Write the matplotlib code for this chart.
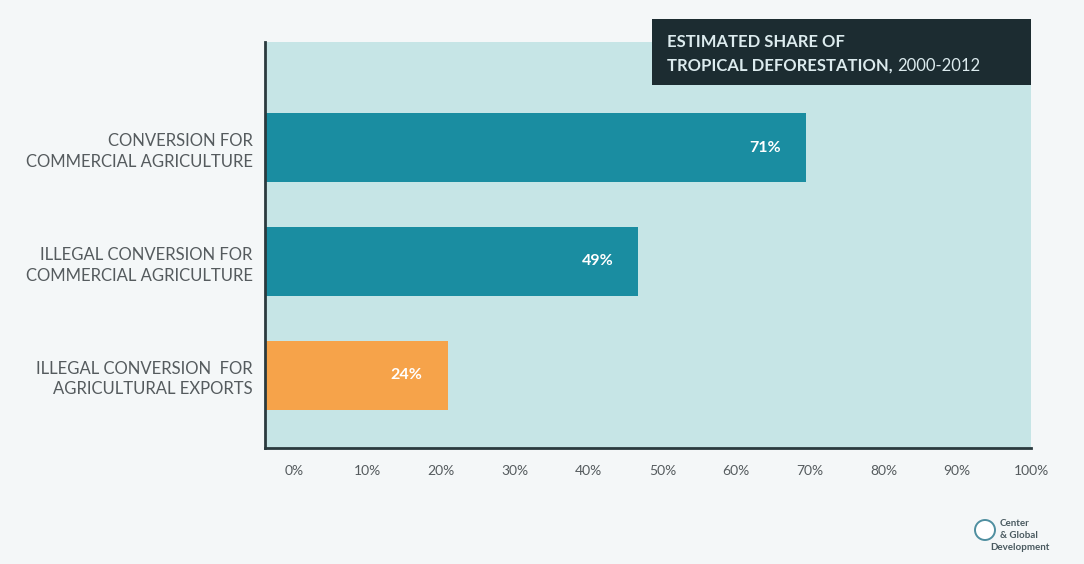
import matplotlib
matplotlib.use("Agg")
import matplotlib.pyplot as plt
from matplotlib.patches import Rectangle, Ellipse
import numpy as np

plt.rcParams['font.family'] = ['Lato', 'DejaVu Sans']

categories = ["CONVERSION FOR\nCOMMERCIAL AGRICULTURE",
              "ILLEGAL CONVERSION FOR\nCOMMERCIAL AGRICULTURE",
              "ILLEGAL CONVERSION  FOR\nAGRICULTURAL EXPORTS"]
values = [71, 49, 24]
value_labels = ["71%", "49%", "24%"]
tick_values = [0, 10, 20, 30, 40, 50, 60, 70, 80, 90, 100]
tick_labels = ["0%", "10%", "20%", "30%", "40%", "50%", "60%", "70%", "80%", "90%", "100%"]
title_line1 = "ESTIMATED SHARE OF"
title_line2 = "TROPICAL DEFORESTATION,"
title_light = "2000-2012"

bg = "#f4f7f8"
panel = "#c6e5e6"
teal = "#1a8da1"
orange = "#f6a34a"
bar_colors = [teal, teal, orange]
label_color = "#555b5e"

fig = plt.figure(figsize=(10.84, 5.64), dpi=100, facecolor=bg)
ax = fig.add_axes([265/1084, 1-448/564, (1031-265)/1084, (448-42)/564])
ax.set_facecolor(panel)

y = np.arange(len(categories))
ax.barh(y, values, height=0.61, color=bar_colors, zorder=2)
ax.set_xlim(0, 100)
ax.set_ylim(2.64, -0.93)

for yi, v, lab in zip(y, values, value_labels):
    ax.text(v - 5.4, yi, lab, ha='center', va='center', color='white',
            fontsize=11.5, fontweight='bold', zorder=3)

# tick labels (the original graphic offsets them slightly from the bar scale)
tick_pos = [3.8 + 0.967 * t for t in tick_values]
ax.set_xticks(tick_pos)
ax.set_xticklabels(tick_labels, fontsize=10, color=label_color)
ax.tick_params(axis='x', length=0, pad=12)
ax.set_yticks(y)
ax.set_yticklabels(categories, fontsize=12, color=label_color, linespacing=1.35)
ax.tick_params(axis='y', length=0, pad=9)
for lbl in ax.get_yticklabels():
    lbl.set_horizontalalignment('right')
    lbl.set_multialignment('right')

for s in ['top', 'right']:
    ax.spines[s].set_visible(False)
for s in ['left', 'bottom']:
    ax.spines[s].set_color('#2a3a3e')
    ax.spines[s].set_linewidth(2)

# title box
fig.patches.append(Rectangle((652/1084, 1-85/564), (1031-652)/1084, 66/564,
                             transform=fig.transFigure, facecolor="#1c2c31",
                             edgecolor='none', zorder=5))
fig.text(667/1084, 1-42/564, title_line1, color="#dcebee",
         fontsize=12, fontweight='bold', va='center', ha='left', zorder=6)
t2 = fig.text(667/1084, 1-66/564, title_line2, color="#dcebee",
              fontsize=12, fontweight='bold', va='center', ha='left', zorder=6)
fig.canvas.draw()
bb = t2.get_window_extent()
fig.text((bb.x1 + 5)/1084, 1-66/564, title_light, color="#dcebee",
         fontsize=12, fontweight='normal', va='center', ha='left', zorder=6)

# logo
fig.patches.append(Ellipse((985/1084, 1-530/564), 20/1084, 20/564, transform=fig.transFigure,
                           facecolor='white', edgecolor="#4f8fa0", lw=1.4))
fig.text(1000/1084, 1-523/564, "Center", fontsize=7, color="#4a5a60", va='center', fontweight='bold')
fig.text(1000/1084, 1-535/564, "& Global", fontsize=7, color="#4a5a60", va='center', fontweight='bold')
fig.text(990/1084, 1-547/564, "Development", fontsize=7, color="#4a5a60", va='center', fontweight='bold')

fig.savefig("out.png", dpi=100, facecolor=bg)
